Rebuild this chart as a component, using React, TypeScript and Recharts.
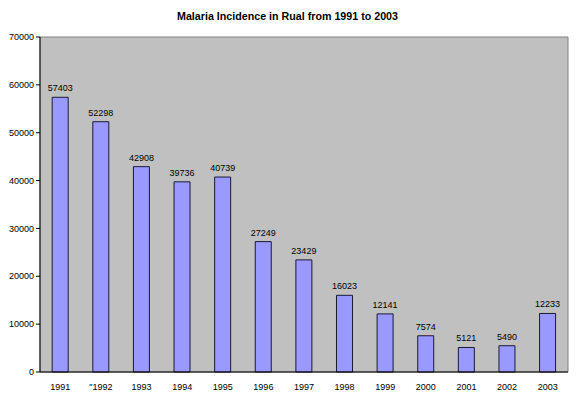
import React from 'react';
import { BarChart, Bar, XAxis, YAxis, LabelList, ReferenceArea } from 'recharts';

const years = ['1991', '"1992', '1993', '1994', '1995', '1996', '1997', '1998', '1999', '2000', '2001', '2002', '2003'];
const incidence = [57403, 52298, 42908, 39736, 40739, 27249, 23429, 16023, 12141, 7574, 5121, 5490, 12233];
const yTicks = [0, 10000, 20000, 30000, 40000, 50000, 60000, 70000];
const slotTicks = [0, 1, 2, 3, 4, 5, 6, 7, 8, 9, 10, 11, 12, 13];

const data = years.map((y, i) => ({ year: y, value: incidence[i] }));

const FONT = '"Liberation Sans", Arial, sans-serif';

export default function App() {
  return (
    <div style={{ position: 'absolute', left: 0, top: 0, width: 577, height: 395, background: '#fff', fontFamily: FONT }}>
      <div style={{ position: 'absolute', left: 0, top: 10, width: 575, textAlign: 'center', fontSize: 10.7, fontWeight: 'bold', color: '#000' }}>
        Malaria Incidence in Rual from 1991 to 2003
      </div>
      <BarChart
        width={577}
        height={395}
        data={data}
        margin={{ top: 37, right: 9, left: 0, bottom: 3 }}
        barCategoryGap="30%"
      >
        <XAxis
          xAxisId="slots"
          type="number"
          dataKey="slot"
          domain={[0, 13]}
          ticks={slotTicks}
          tick={false}
          tickLine={{ stroke: '#000' }}
          tickSize={4}
          axisLine={false}
          height={0}
          allowDataOverflow
        />
        <XAxis
          xAxisId="cat"
          dataKey="year"
          tickLine={false}
          axisLine={{ stroke: '#000' }}
          tick={{ fontSize: 9, fill: '#000', fontFamily: FONT }}
          height={20}
          interval={0}
          tickMargin={6}
        />
        <YAxis
          domain={[0, 70000]}
          ticks={yTicks}
          width={40}
          tick={{ fontSize: 9, fill: '#000', fontFamily: FONT }}
          tickLine={{ stroke: '#000' }}
          tickSize={4}
          axisLine={{ stroke: '#000' }}
          tickMargin={2}
        />
        <ReferenceArea
          xAxisId="slots"
          x1={0}
          x2={13}
          y1={0}
          y2={70000}
          fill="#C0C0C0"
          fillOpacity={1}
          stroke="#808080"
          strokeWidth={1}
        />
        <Bar xAxisId="cat" dataKey="value" fill="#9999FF" stroke="#1a1a33" strokeWidth={1} isAnimationActive={false}>
          <LabelList dataKey="value" position="top" offset={6} style={{ fontSize: 9, fill: '#000', fontFamily: FONT }} />
        </Bar>
      </BarChart>
    </div>
  );
}
